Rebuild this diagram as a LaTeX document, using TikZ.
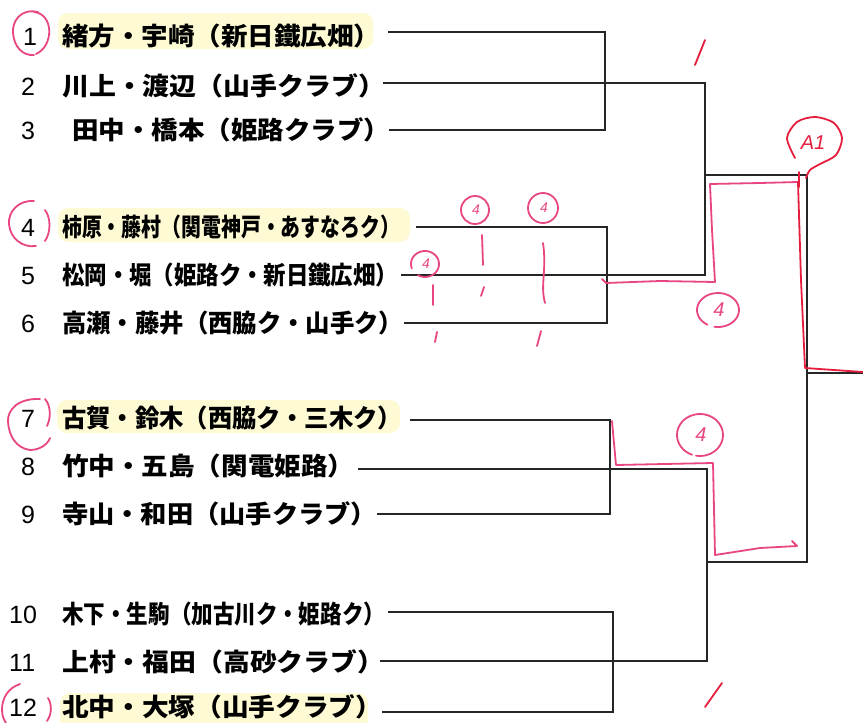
\documentclass[tikz,border=0pt]{standalone}
\usepackage{fontspec}
\usepackage{graphicx}
\setmainfont{Liberation Sans}
\newfontfamily\jpfont{Noto Sans CJK JP}
\definecolor{hl}{RGB}{253,250,212}
\definecolor{pen}{RGB}{232,70,130}
\definecolor{penred}{RGB}{228,30,60}
\newcommand\fitw[2]{\resizebox{#1pt}{\height}{#2}}
\begin{document}
\begin{tikzpicture}[x=1pt,y=-1pt,
  team/.style={anchor=base west, inner sep=0pt, font=\jpfont\bfseries\fontsize{25}{28}\selectfont},
  seed/.style={anchor=base west, inner sep=0pt, font=\fontsize{25}{30}\selectfont},
  wire/.style={line width=1.7pt, draw=black!85},
  penline/.style={draw=pen, line width=1.8pt, line cap=round, line join=round},
  redline/.style={draw=penred, line width=1.8pt, line cap=round, line join=round},
  scoremark/.style={text=pen, font=\itshape\fontsize{14}{14}\selectfont, inner sep=0pt},
  hilite/.style={fill=hl, draw=none, rounded corners=10pt}]
\useasboundingbox (0,0) rectangle (863,723);
\fill[white] (0,0) rectangle (863,723);

% highlighter
\fill[hilite] (58,13) rectangle (373,49);
\fill[hilite] (58,208) rectangle (410,242);
\fill[hilite] (57,400) rectangle (400,433);
\fill[hilite] (60,693) rectangle (368,730);

% seeds
\node[seed] (n1) at (23,45) {1};
\node[seed] (n2) at (21,95) {2};
\node[seed] (n3) at (21,139) {3};
\node[seed] (n4) at (21,236) {4};
\node[seed] (n5) at (21,284) {5};
\node[seed] (n6) at (21,332) {6};
\node[seed] (n7) at (21,427) {7};
\node[seed] (n8) at (21,475) {8};
\node[seed] (n9) at (21,523) {9};
\node[seed] (n10) at (9,623) {10};
\node[seed] (n11) at (9,671) {11};
\node[seed] (n12) at (9,716) {12};

% teams
\node[team] (t1) at (62,45) {\fitw{318}{緒方・宇崎（新日鐵広畑）}};
\node[team] (t2) at (62,95) {\fitw{323}{川上・渡辺（山手クラブ）}};
\node[team] (t3) at (72,139) {\fitw{318}{田中・橋本（姫路クラブ）}};
\node[team] (t4) at (62,236) {\fitw{338}{柿原・藤村（関電神戸・あすなろク）}};
\node[team] (t5) at (62,284) {\fitw{336}{松岡・堀（姫路ク・新日鐵広畑）}};
\node[team] (t6) at (62,332) {\fitw{341}{高瀬・藤井（西脇ク・山手ク）}};
\node[team] (t7) at (62,427) {\fitw{340}{古賀・鈴木（西脇ク・三木ク）}};
\node[team] (t8) at (62,475) {\fitw{292}{竹中・五島（関電姫路）}};
\node[team] (t9) at (62,523) {\fitw{315}{寺山・和田（山手クラブ）}};
\node[team] (t10) at (62,623) {\fitw{323}{木下・生駒（加古川ク・姫路ク）}};
\node[team] (t11) at (62,671) {\fitw{322}{上村・福田（高砂クラブ）}};
\node[team] (t12) at (62,716) {\fitw{320}{北中・大塚（山手クラブ）}};

% line starts
\coordinate (s1) at (388,32);
\coordinate (s2) at (383,83);
\coordinate (s3) at (389,130);
\coordinate (s4) at (416,227);
\coordinate (s5) at (401,275);
\coordinate (s6) at (404,323);
\coordinate (s7) at (410,420);
\coordinate (s8) at (358,469);
\coordinate (s9) at (377,514);
\coordinate (s10) at (388,612);
\coordinate (s11) at (380,661);
\coordinate (s12) at (382,712);
% junctions
\coordinate (q1) at (605,83);
\coordinate (q2) at (607,275);
\coordinate (q3) at (610,469);
\coordinate (q4) at (613,661);
\coordinate (r1) at (705,175);
\coordinate (r2) at (707,562);
\coordinate (f) at (807,373);
\coordinate (fe) at (863,373);

% bracket
\draw[wire] (s1) -| (q1) |- (s3);
\draw[wire] (s2) -- (q1);
\draw[wire] (s4) -| (q2) |- (s6);
\draw[wire] (s5) -- (q2);
\draw[wire] (s7) -| (q3) |- (s9);
\draw[wire] (s8) -- (q3);
\draw[wire] (s10) -| (q4) |- (s12);
\draw[wire] (s11) -- (q4);
\draw[wire] (q1) -| (r1) |- (q2);
\draw[wire] (q3) -| (r2) |- (q4);
\draw[wire] (r1) -| (f) |- (r2);
\draw[wire] (f) -- (fe);

% red pen: circles around seeds (left arcs and right arcs)
\draw[penline] (38,12) .. controls (20,8) and (12,22) .. (13,33) .. controls (14,46) and (22,56) .. (34,55);
\draw[penline] (34,12) .. controls (54,14) and (54,46) .. (36,54);
\draw[penline] (34,201) .. controls (18,200) and (8,212) .. (9,224) .. controls (10,238) and (22,248) .. (36,246);
\draw[penline] (45,210) .. controls (51,218) and (51,232) .. (45,241);
\draw[penline] (40,399) .. controls (18,398) and (7,410) .. (8,422) .. controls (9,436) and (16,448) .. (30,450) .. controls (40,450) and (48,444) .. (50,438);
\draw[penline] (45,399) .. controls (51,406) and (51,418) .. (47,426);
\draw[penline] (20,684) .. controls (8,688) and (2,698) .. (2,710) .. controls (2,716) and (4,720) .. (6,723);
\draw[penline] (48,698) .. controls (52,704) and (52,714) .. (47,721);

% red pen: winner paths
\draw[penline] (602,279) -- (606,283) -- (660,281) -- (715,282) -- (712,230) -- (710,184) -- (760,183) -- (798,182);
\draw[redline] (798,182) -- (801,280) -- (805,368) -- (863,372);
\draw[redline] (799,172) -- (799,187);
\draw[penline] (612,421) -- (616,465) -- (713,463) -- (715,555) -- (760,548) -- (797,546) -- (792,541);

% circled scores
\draw[penline] (475,210) circle[radius=14];
\node[scoremark] (m1) at (476,210) {4};
\draw[penline] (543,208) circle[radius=15];
\node[scoremark] (m2) at (544,208) {4};
\draw[penline] plot[domain=-200:120, samples=40, smooth] ({425+14*cos(\x)},{264+13*sin(\x)});
\node[scoremark] (m3) at (426,264) {4};
\draw[penline] plot[domain=-240:100, samples=40, smooth] ({718+21*cos(\x)},{310+17*sin(\x)});
\node[scoremark, font=\itshape\fontsize{20}{20}\selectfont] (m4) at (719,310) {4};
\draw[penline] plot[domain=-250:100, samples=40, smooth] ({700+23*cos(\x)},{435+21*sin(\x)});
\node[scoremark, font=\itshape\fontsize{20}{20}\selectfont] (m5) at (701,435) {4};

% top-right circled mark
\draw[redline] plot[smooth] coordinates {(795,158) (787,138) (797,122) (815,117) (834,123) (842,138) (836,155) (820,164) (810,170) (806,178)};
\node[scoremark, text=penred, font=\itshape\fontsize{20}{20}\selectfont] (m6) at (813,143) {A1};

% ticks
\draw[redline] (695,65) -- (705,40);
\draw[penline] (482,235) -- (483,265);
\draw[penline] (481,296) -- (484,287);
\draw[penline] (543,243) .. controls (547,270) and (540,285) .. (545,303);
\draw[penline] (433,285) -- (433,305);
\draw[penline] (435,342) -- (437,332);
\draw[penline] (537,346) -- (541,331);
\draw[redline] (705,707) -- (722,683);
\end{tikzpicture}
\end{document}
